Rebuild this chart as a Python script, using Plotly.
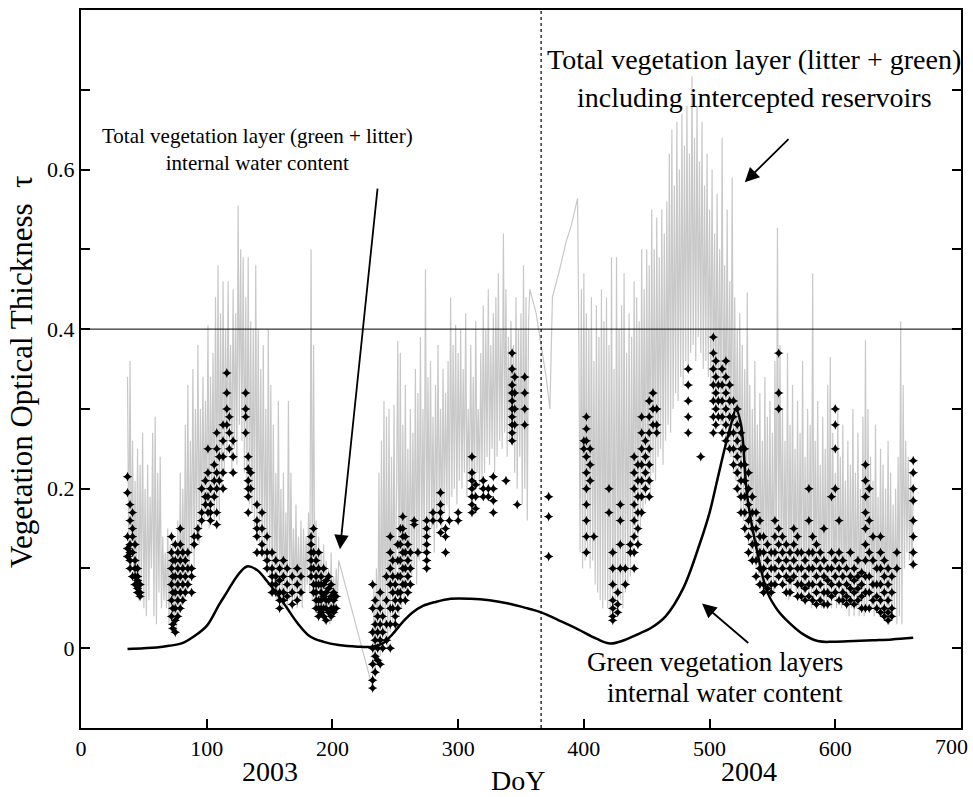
import plotly.graph_objects as go

# ---------------- data ----------------
# Total vegetation layer incl. intercepted reservoirs (gray, daily)
gray_a_start = 37
gray_a_vals = [
    0.34, 0.12, 0.36, 0.10, 0.26, 0.09, 0.21, 0.08, 0.25, 0.06,
    0.23, 0.07, 0.27, 0.05, 0.20, 0.04, 0.23, 0.06, 0.19, 0.10,
    0.27, 0.04, 0.29, 0.03, 0.22, 0.07, 0.24, 0.05, 0.14, 0.06,
    0.12, 0.05, 0.15, 0.03, 0.13, 0.02, 0.14, 0.03, 0.12, 0.02,
    0.16, 0.04, 0.22, 0.05, 0.20, 0.06, 0.28, 0.07, 0.33, 0.08,
    0.26, 0.12, 0.35, 0.10, 0.30, 0.14, 0.38, 0.13, 0.30, 0.15,
    0.34, 0.16, 0.31, 0.17, 0.405, 0.15, 0.34, 0.18, 0.37, 0.16,
    0.44, 0.17, 0.48, 0.16, 0.42, 0.20, 0.46, 0.22, 0.40, 0.24,
    0.46, 0.26, 0.38, 0.22, 0.45, 0.25, 0.42, 0.23, 0.555, 0.28,
    0.50, 0.26, 0.49, 0.22, 0.44, 0.20, 0.49, 0.18, 0.41, 0.17,
    0.40, 0.15, 0.48, 0.14, 0.40, 0.13, 0.35, 0.12, 0.38, 0.11,
    0.30, 0.10, 0.40, 0.09, 0.33, 0.08, 0.28, 0.07, 0.22, 0.06,
    0.31, 0.06, 0.20, 0.05, 0.22, 0.06, 0.17, 0.05, 0.31, 0.06,
    0.22, 0.05, 0.15, 0.06, 0.18, 0.05, 0.14, 0.06, 0.16, 0.05,
    0.15, 0.07, 0.14, 0.08, 0.17, 0.07, 0.50, 0.06, 0.38, 0.05,
    0.16, 0.04, 0.14, 0.05, 0.12, 0.04, 0.13, 0.03, 0.11, 0.04,
    0.10, 0.03, 0.12, 0.04, 0.09, 0.05, 0.10, 0.06, 0.11,
]
gray_c_start = 232
gray_c_vals = [
    -0.05, 0.08, -0.03, 0.10, -0.02, 0.22, -0.01, 0.26, 0.00, 0.31,
    0.01, 0.29, 0.00, 0.30, 0.02, 0.24, 0.03, 0.305, 0.02, 0.20,
    0.385, 0.04, 0.37, 0.05, 0.28, 0.06, 0.33, 0.07, 0.25, 0.08,
    0.30, 0.09, 0.27, 0.10, 0.35, 0.08, 0.32, 0.11, 0.39, 0.12,
    0.30, 0.12, 0.475, 0.13, 0.34, 0.14, 0.36, 0.15, 0.29, 0.12,
    0.33, 0.15, 0.38, 0.16, 0.30, 0.14, 0.35, 0.17, 0.32, 0.18,
    0.36, 0.16, 0.44, 0.19, 0.38, 0.20, 0.405, 0.18, 0.37, 0.21,
    0.40, 0.20, 0.35, 0.22, 0.42, 0.19, 0.30, 0.21, 0.38, 0.20,
    0.34, 0.19, 0.41, 0.22, 0.30, 0.20, 0.37, 0.21, 0.43, 0.22,
    0.40, 0.24, 0.45, 0.23, 0.38, 0.25, 0.42, 0.22, 0.44, 0.24,
    0.47, 0.26, 0.40, 0.25, 0.52, 0.27, 0.45, 0.24, 0.39, 0.26,
    0.41, 0.28, 0.38, 0.22, 0.44, 0.20, 0.40, 0.24, 0.42, 0.18,
    0.48, 0.20, 0.44, 0.16, 0.41, 0.45,
]
gray_d_days = [362, 366, 370, 373, 375, 380, 386, 390, 395]
gray_d_vals = [0.42, 0.38, 0.34, 0.30, 0.44, 0.47, 0.51, 0.53, 0.564]
gray_e_start = 396
gray_e_vals = [
    0.39, 0.12, 0.45, 0.10, 0.47, 0.11, 0.42, 0.12, 0.40, 0.10,
    0.44, 0.11, 0.36, 0.08, 0.43, 0.07, 0.39, 0.06, 0.45, 0.05,
    0.41, 0.06, 0.44, 0.05, 0.38, 0.04, 0.49, 0.05, 0.35, 0.04,
    0.49, 0.05, 0.40, 0.06, 0.43, 0.05, 0.47, 0.07, 0.37, 0.08,
    0.42, 0.09, 0.39, 0.12, 0.46, 0.14, 0.44, 0.13, 0.41, 0.15,
    0.50, 0.17, 0.45, 0.18, 0.50, 0.20, 0.48, 0.19, 0.55, 0.22,
    0.50, 0.21, 0.54, 0.24, 0.49, 0.25, 0.55, 0.23, 0.52, 0.26,
    0.56, 0.28, 0.62, 0.27, 0.65, 0.30, 0.58, 0.32, 0.66, 0.31,
    0.60, 0.34, 0.67, 0.33, 0.63, 0.36, 0.68, 0.35, 0.62, 0.37,
    0.717, 0.38, 0.64, 0.36, 0.68, 0.39, 0.61, 0.37, 0.66, 0.35,
    0.58, 0.36, 0.62, 0.34, 0.55, 0.33, 0.60, 0.31, 0.52, 0.30,
    0.57, 0.29, 0.50, 0.28, 0.64, 0.27, 0.48, 0.26, 0.55, 0.25,
    0.46, 0.24, 0.59, 0.22, 0.44, 0.21, 0.40, 0.19, 0.42, 0.17,
    0.38, 0.16, 0.35, 0.14, 0.446, 0.13, 0.33, 0.12, 0.30, 0.11,
    0.36, 0.10, 0.28, 0.09, 0.32, 0.08, 0.26, 0.09, 0.34, 0.08,
    0.29, 0.07, 0.31, 0.08, 0.27, 0.07, 0.36, 0.08, 0.527, 0.09,
    0.38, 0.10, 0.30, 0.08, 0.26, 0.07, 0.37, 0.06, 0.28, 0.07,
    0.33, 0.08, 0.25, 0.07, 0.31, 0.06, 0.27, 0.07, 0.36, 0.06,
    0.24, 0.07, 0.30, 0.06, 0.28, 0.05, 0.47, 0.06, 0.26, 0.07,
    0.31, 0.06, 0.23, 0.05, 0.29, 0.06, 0.25, 0.05, 0.33, 0.06,
    0.365, 0.05, 0.27, 0.06, 0.22, 0.05, 0.30, 0.06, 0.24, 0.05,
    0.28, 0.06, 0.21, 0.05, 0.26, 0.04, 0.23, 0.05, 0.30, 0.04,
    0.22, 0.05, 0.27, 0.04, 0.20, 0.05, 0.29, 0.04, 0.386, 0.05,
    0.30, 0.06, 0.24, 0.05, 0.21, 0.04, 0.28, 0.05, 0.19, 0.04,
    0.25, 0.05, 0.23, 0.04, 0.20, 0.04, 0.26, 0.03, 0.22, 0.04,
    0.18, 0.05, 0.20, 0.03, 0.24, 0.04, 0.41, 0.03, 0.33, 0.10,
    0.26, 0.12, 0.24, 0.11, 0.22, 0.10, 0.20,
]

# Total vegetation layer internal water content (black markers): (day, values)
marker_groups = [
    (37, [0.215, 0.195, 0.14, 0.125, 0.115]),
    (39, [0.18, 0.16, 0.13, 0.12, 0.11, 0.10]),
    (41, [0.17, 0.15, 0.14, 0.12, 0.09]),
    (43, [0.13, 0.11, 0.10, 0.09, 0.08]),
    (45, [0.10, 0.09, 0.085, 0.075, 0.07]),
    (47, [0.08, 0.07, 0.065]),
    (72, [0.14, 0.12, 0.10, 0.08, 0.06, 0.04]),
    (73, [0.11, 0.09, 0.07, 0.05, 0.03, 0.025]),
    (75, [0.13, 0.11, 0.09, 0.07, 0.05, 0.035, 0.02]),
    (77, [0.12, 0.10, 0.08, 0.06, 0.04]),
    (79, [0.15, 0.13, 0.11, 0.09, 0.07, 0.05]),
    (81, [0.12, 0.10, 0.08, 0.06]),
    (83, [0.11, 0.09, 0.07]),
    (85, [0.12, 0.10, 0.08]),
    (88, [0.10, 0.09, 0.07]),
    (90, [0.14, 0.13]),
    (93, [0.14, 0.15]),
    (96, [0.16, 0.17, 0.20]),
    (99, [0.19, 0.18, 0.21]),
    (101, [0.25, 0.22, 0.19, 0.17]),
    (103, [0.20, 0.18, 0.17, 0.16]),
    (106, [0.23, 0.21, 0.19]),
    (108, [0.27, 0.25, 0.22, 0.20, 0.17, 0.155]),
    (110, [0.24, 0.21]),
    (113, [0.28, 0.26, 0.24, 0.22, 0.20]),
    (116, [0.345, 0.32, 0.30, 0.28]),
    (118, [0.29, 0.27, 0.25]),
    (121, [0.26, 0.24, 0.22]),
    (131, [0.32, 0.30, 0.29, 0.27]),
    (133, [0.24, 0.225, 0.21, 0.20, 0.19, 0.17]),
    (135, [0.22, 0.20]),
    (140, [0.18, 0.16, 0.15, 0.14, 0.12]),
    (144, [0.17, 0.15, 0.13, 0.12]),
    (148, [0.14, 0.12, 0.11, 0.10]),
    (152, [0.12, 0.10, 0.09, 0.08, 0.07]),
    (155, [0.11, 0.09, 0.08, 0.07]),
    (158, [0.10, 0.085, 0.07, 0.06, 0.05]),
    (161, [0.11, 0.09, 0.07, 0.06]),
    (164, [0.10, 0.08, 0.065]),
    (168, [0.09, 0.07, 0.055]),
    (172, [0.10, 0.08, 0.06]),
    (175, [0.09, 0.07]),
    (183, [0.14, 0.13, 0.12, 0.11, 0.10, 0.09]),
    (185, [0.15, 0.12, 0.10, 0.08, 0.07]),
    (187, [0.11, 0.09, 0.08, 0.07, 0.06, 0.05]),
    (189, [0.12, 0.10, 0.08, 0.06, 0.05, 0.04]),
    (191, [0.09, 0.08, 0.07, 0.06, 0.05, 0.045]),
    (193, [0.10, 0.08, 0.065, 0.05, 0.04]),
    (195, [0.085, 0.07, 0.06, 0.05, 0.035]),
    (197, [0.09, 0.075, 0.06, 0.045]),
    (199, [0.08, 0.065, 0.05, 0.04]),
    (201, [0.07, 0.06, 0.05, 0.045]),
    (203, [0.065, 0.05]),
    (232, [0.08, 0.05, 0.02, 0.00, -0.02, -0.04, -0.05]),
    (234, [0.06, 0.03, 0.01, -0.01, -0.03]),
    (236, [0.04, 0.02, 0.00, -0.015]),
    (238, [0.07, 0.05, 0.03, 0.01, -0.02]),
    (240, [0.04, 0.02, 0.00]),
    (243, [0.09, 0.06, 0.03, 0.01]),
    (246, [0.14, 0.12, 0.10, 0.08, 0.05, 0.03, 0.00]),
    (248, [0.11, 0.09, 0.07, 0.05]),
    (250, [0.08, 0.06, 0.04, 0.03]),
    (252, [0.13, 0.11, 0.09, 0.07, 0.05]),
    (254, [0.15, 0.13, 0.11, 0.09, 0.07, 0.06]),
    (256, [0.165, 0.15, 0.14, 0.12, 0.10, 0.08]),
    (258, [0.14, 0.12, 0.10, 0.08, 0.06]),
    (260, [0.13, 0.11, 0.09, 0.07]),
    (262, [0.12, 0.10, 0.08]),
    (265, [0.16, 0.155]),
    (268, [0.12]),
    (275, [0.16, 0.15, 0.14, 0.13, 0.12, 0.11, 0.10]),
    (280, [0.17, 0.16]),
    (286, [0.195, 0.18, 0.17, 0.16, 0.145]),
    (290, [0.15, 0.14, 0.12]),
    (293, [0.16]),
    (300, [0.17, 0.16]),
    (311, [0.24, 0.22, 0.21, 0.20, 0.19, 0.18, 0.17]),
    (314, [0.205, 0.19, 0.175]),
    (320, [0.21, 0.20, 0.19]),
    (324, [0.20, 0.19]),
    (328, [0.215, 0.20, 0.185, 0.17]),
    (338, [0.21]),
    (343, [0.37, 0.35, 0.33, 0.32, 0.31, 0.30, 0.29, 0.28, 0.27, 0.26]),
    (345, [0.34, 0.32, 0.30, 0.28]),
    (347, [0.18]),
    (353, [0.34, 0.32, 0.30, 0.28]),
    (372, [0.19, 0.165, 0.115]),
    (400, [0.26, 0.25]),
    (402, [0.29, 0.275, 0.26, 0.24, 0.22, 0.20, 0.18, 0.16, 0.14, 0.12]),
    (405, [0.25, 0.23, 0.21]),
    (408, [0.14]),
    (420, [0.20, 0.17]),
    (423, [0.12, 0.10, 0.08, 0.06, 0.05, 0.04, 0.035]),
    (427, [0.07, 0.055, 0.045]),
    (429, [0.18, 0.16, 0.13, 0.10]),
    (433, [0.10, 0.08]),
    (437, [0.13, 0.12]),
    (440, [0.24, 0.22, 0.20, 0.18, 0.16, 0.14, 0.12, 0.10]),
    (443, [0.23, 0.21, 0.19, 0.17, 0.15, 0.13]),
    (446, [0.29, 0.27, 0.25, 0.23, 0.21, 0.19, 0.17]),
    (449, [0.26, 0.24, 0.22, 0.20]),
    (452, [0.31, 0.29, 0.27, 0.25, 0.23, 0.21, 0.19]),
    (455, [0.32, 0.30, 0.28]),
    (458, [0.30, 0.28, 0.27]),
    (483, [0.35, 0.33, 0.31, 0.29, 0.27]),
    (493, [0.24]),
    (503, [0.39, 0.37, 0.35, 0.33, 0.31, 0.29, 0.27]),
    (505, [0.36, 0.34, 0.32, 0.30, 0.28]),
    (507, [0.33, 0.31, 0.29]),
    (510, [0.35, 0.33, 0.31, 0.29, 0.27]),
    (513, [0.36, 0.34, 0.32, 0.30, 0.28, 0.26]),
    (516, [0.33, 0.31, 0.29, 0.27, 0.25]),
    (519, [0.31, 0.29, 0.27, 0.25, 0.23]),
    (522, [0.30, 0.28, 0.26, 0.24, 0.22, 0.20]),
    (525, [0.27, 0.25, 0.23, 0.21, 0.19, 0.17]),
    (528, [0.25, 0.23, 0.21, 0.19, 0.17, 0.15]),
    (531, [0.22, 0.20, 0.18, 0.16, 0.14, 0.12]),
    (534, [0.19, 0.17, 0.15, 0.13, 0.11]),
    (537, [0.17, 0.15, 0.13, 0.11, 0.09]),
    (540, [0.16, 0.14, 0.12, 0.10, 0.08]),
    (543, [0.14, 0.12, 0.10, 0.08, 0.07]),
    (546, [0.13, 0.11, 0.09, 0.075]),
    (549, [0.12, 0.10, 0.08, 0.07]),
    (552, [0.16, 0.14, 0.12, 0.10, 0.08]),
    (555, [0.37, 0.32, 0.30, 0.15, 0.13, 0.11, 0.09]),
    (558, [0.14, 0.12, 0.10, 0.08]),
    (561, [0.13, 0.11, 0.09, 0.07]),
    (564, [0.12, 0.10, 0.085, 0.07]),
    (567, [0.15, 0.13, 0.11, 0.09]),
    (570, [0.14, 0.12, 0.10, 0.08, 0.065]),
    (573, [0.12, 0.10, 0.08, 0.065]),
    (576, [0.11, 0.09, 0.075, 0.06]),
    (579, [0.20, 0.16, 0.12, 0.10, 0.08, 0.065]),
    (582, [0.14, 0.12, 0.10, 0.08, 0.06]),
    (585, [0.13, 0.11, 0.09, 0.07, 0.055]),
    (588, [0.12, 0.10, 0.08, 0.06]),
    (591, [0.15, 0.11, 0.09, 0.07, 0.055]),
    (594, [0.10, 0.085, 0.07, 0.055]),
    (597, [0.19, 0.12, 0.10, 0.08, 0.065]),
    (600, [0.30, 0.28, 0.25, 0.20, 0.11, 0.09, 0.07]),
    (603, [0.16, 0.12, 0.10, 0.08, 0.06]),
    (606, [0.11, 0.09, 0.07, 0.06]),
    (609, [0.10, 0.08, 0.065, 0.055]),
    (612, [0.12, 0.09, 0.075, 0.06]),
    (615, [0.10, 0.085, 0.07, 0.055]),
    (618, [0.11, 0.09, 0.075, 0.06]),
    (621, [0.095, 0.08, 0.065, 0.05]),
    (624, [0.23, 0.21, 0.19, 0.17, 0.15, 0.13, 0.11, 0.09, 0.07, 0.05]),
    (627, [0.20, 0.16, 0.12, 0.09, 0.07, 0.05]),
    (630, [0.14, 0.11, 0.08, 0.06]),
    (633, [0.10, 0.08, 0.065, 0.05]),
    (636, [0.14, 0.12, 0.10, 0.08, 0.06, 0.045]),
    (639, [0.11, 0.09, 0.07, 0.05, 0.04]),
    (642, [0.10, 0.08, 0.06, 0.045, 0.035]),
    (645, [0.09, 0.07, 0.05, 0.04]),
    (649, [0.12, 0.10]),
    (662, [0.235, 0.22, 0.20, 0.185, 0.16, 0.14, 0.12, 0.105]),
]

# Green vegetation layers internal water content (smooth black line)
green_days = [37, 50, 60, 70, 80, 90, 100, 110, 116, 124, 132, 140, 148, 156, 164,
              172, 182, 193, 205, 220, 232, 240, 248, 256, 264, 272, 282, 294, 310,
              325, 340, 355, 366, 380, 395, 410, 421, 432, 445, 453, 465, 479, 492,
              500, 506, 512, 517, 521, 525, 530, 538, 546, 554, 562, 574, 586, 598,
              615, 630, 645, 662]
green_vals = [-0.001, 0.0, 0.001, 0.003, 0.006, 0.015, 0.028, 0.055, 0.07, 0.09, 0.1025,
              0.098, 0.084, 0.068, 0.05, 0.032, 0.015, 0.008, 0.004, 0.002, 0.002,
              0.006, 0.018, 0.033, 0.045, 0.053, 0.058, 0.062, 0.062, 0.060, 0.056,
              0.05, 0.045, 0.035, 0.024, 0.012, 0.006, 0.01, 0.019, 0.025, 0.04,
              0.075, 0.13, 0.17, 0.21, 0.25, 0.28, 0.30, 0.28, 0.19, 0.12, 0.07,
              0.048, 0.034, 0.018, 0.009, 0.008, 0.009, 0.01, 0.011, 0.013]

x_ticks = [0, 100, 200, 300, 400, 500, 600]
x_last_tick = 700
y_tickvals = [-0.1, 0, 0.1, 0.2, 0.3, 0.4, 0.5, 0.6, 0.7]
y_ticktext = ["", "0", "", "0.2", "", "0.4", "", "0.6", ""]

# ---------------- build ----------------
gray_days = (list(range(gray_a_start, gray_a_start + len(gray_a_vals)))
             + list(range(gray_c_start, gray_c_start + len(gray_c_vals)))
             + gray_d_days
             + list(range(gray_e_start, gray_e_start + len(gray_e_vals))))
gray_vals = gray_a_vals + gray_c_vals + gray_d_vals + gray_e_vals

mk_x, mk_y = [], []
for d, vals in marker_groups:
    for v in vals:
        mk_x.append(d)
        mk_y.append(v)

SERIF = "Liberation Serif, Times New Roman, serif"

fig = go.Figure()
fig.add_trace(go.Scatter(x=gray_days, y=gray_vals, mode="lines",
                         line=dict(color="#c8c8c8", width=1.2), hoverinfo="skip"))
fig.add_trace(go.Scatter(x=mk_x, y=mk_y, mode="markers",
                         marker=dict(symbol="star-diamond", size=7, color="black"),
                         hoverinfo="skip"))
fig.add_trace(go.Scatter(x=green_days, y=green_vals, mode="lines",
                         line=dict(color="black", width=2.5, shape="spline"),
                         hoverinfo="skip"))

fig.add_shape(type="line", xref="x", yref="y", x0=0, x1=700, y0=0.4, y1=0.4,
              line=dict(color="black", width=1))
fig.add_shape(type="line", xref="x", yref="y", x0=366, x1=366, y0=-0.1, y1=0.8,
              line=dict(color="black", width=1.2, dash="dot"))

ann = []
small = dict(family=SERIF, size=21, color="black")
mid = dict(family=SERIF, size=28, color="black")
mid3 = dict(family=SERIF, size=27, color="black")
ann.append(dict(x=140, y=0.625, xref="x", yref="y", showarrow=False, font=small,
                text="Total vegetation layer (green + litter)<br>internal water content",
                align="center"))
ann.append(dict(x=535.5, y=0.7375, xref="x", yref="y", showarrow=False, font=mid,
                text="Total vegetation layer (litter + green)"))
ann.append(dict(x=535.5, y=0.69, xref="x", yref="y", showarrow=False, font=mid,
                text="including intercepted reservoirs"))
ann.append(dict(x=504, y=-0.017, xref="x", yref="y", showarrow=False, font=mid3,
                text="Green vegetation layers"))
ann.append(dict(x=512, y=-0.056, xref="x", yref="y", showarrow=False, font=mid3,
                text="internal water content"))
arrow = dict(showarrow=True, arrowhead=2, arrowsize=1.6, arrowwidth=1.8,
             arrowcolor="black", axref="x", ayref="y", xref="x", yref="y", text="")
ann.append(dict(arrow, x=206, y=0.124, ax=236, ay=0.578))
ann.append(dict(arrow, x=528, y=0.584, ax=564, ay=0.64))
ann.append(dict(arrow, x=494, y=0.056, ax=532, ay=0.005))
big = dict(family=SERIF, size=28, color="black")
# last x tick label sits on the right frame edge (paper x = 1)
ann.append(dict(x=1.0, y=-0.026, xref="paper", yref="paper", showarrow=False,
                font=dict(family=SERIF, size=22, color="black"), text=str(x_last_tick),
                yanchor="middle", xanchor="right", xshift=9))
ann.append(dict(x=150, y=-0.061, xref="x", yref="paper", showarrow=False, font=big,
                text="2003", yanchor="middle"))
ann.append(dict(x=531, y=-0.061, xref="x", yref="paper", showarrow=False, font=big,
                text="2004", yanchor="middle"))
ann.append(dict(x=348, y=-0.073, xref="x", yref="paper", showarrow=False, font=big,
                text="DoY", yanchor="middle"))
ann.append(dict(x=-0.067, y=0.496, xref="paper", yref="paper", showarrow=False,
                font=dict(family=SERIF, size=31, color="black"),
                text="Vegetation Optical Thickness  τ", textangle=-90,
                xanchor="center", yanchor="middle"))

fig.update_layout(
    width=973, height=797,
    margin=dict(l=81, r=12, t=8, b=69),
    plot_bgcolor="white", paper_bgcolor="white",
    showlegend=False,
    annotations=ann,
    font=dict(family=SERIF, color="black"),
    xaxis=dict(range=[0, 700], tickvals=x_ticks, ticks="inside", ticklen=9,
               tickwidth=1.5, tickcolor="black", showline=True, linewidth=2,
               linecolor="black", mirror=True, showgrid=False, zeroline=False,
               tickfont=dict(family=SERIF, size=22, color="black")),
    yaxis=dict(range=[-0.1, 0.8], tickvals=y_tickvals, ticktext=y_ticktext,
               ticks="inside", ticklen=9, tickwidth=1.5, tickcolor="black",
               showline=True, linewidth=2, linecolor="black", mirror="ticks",
               showgrid=False, zeroline=False,
               tickfont=dict(family=SERIF, size=22, color="black")),
)

fig.write_html("out.html")
